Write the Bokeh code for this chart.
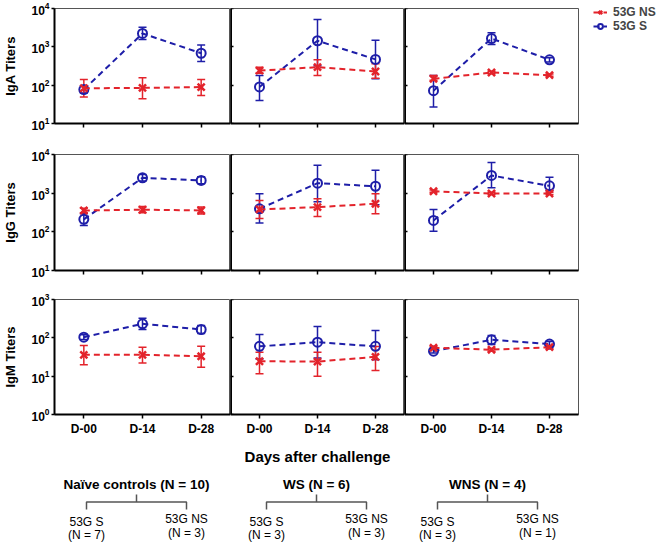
from bokeh.plotting import figure
from bokeh.models import (ColumnDataSource, FactorRange, Range1d, Whisker, TeeHead,
                          Legend, LegendItem, CustomJSTickFormatter)
from bokeh.layouts import column, row
from bokeh.embed import file_html
from bokeh.resources import INLINE
from bokeh.core.properties import value

# ---------------- data ----------------
DAYS = ["D-00", "D-14", "D-28"]
GROUPS = ["Naïve controls", "WS", "WNS"]
GROUP_N = [10, 6, 4]
S_N = [7, 3, 3]
NS_N = [3, 3, 1]
ISOTYPES = ["IgA", "IgG", "IgM"]
SERIES = ["53G NS", "53G S"]
Y_LIMITS = [(10, 10000), (10, 10000), (1, 1000)]

# one list per group (Naive, WS, WNS), values for D-00, D-14, D-28
IGA_S_MEAN = [[77, 2230, 680], [90, 1440, 470], [72, 1650, 460]]
IGA_S_LO = [[62, 1550, 414], [40, 320, 146], [27, 1150, 400]]
IGA_S_HI = [[95, 3250, 1120], [180, 5200, 1480], [180, 2320, 520]]
IGA_NS_MEAN = [[83, 85, 89], [240, 295, 227], [146, 214, 182]]
IGA_NS_LO = [[49, 44, 54], [205, 178, 152], [135, 200, 170]]
IGA_NS_HI = [[141, 155, 141], [293, 458, 360], [180, 230, 195]]

IGG_S_MEAN = [[210, 2500, 2130], [395, 1810, 1510], [197, 2870, 1550]]
IGG_S_LO = [[146, 2050, 1750], [168, 600, 500], [103, 1380, 1180]]
IGG_S_HI = [[294, 3050, 2650], [960, 5300, 3900], [380, 6200, 2580]]
IGG_NS_MEAN = [[357, 373, 357], [380, 435, 532], [1120, 980, 980]]
IGG_NS_LO = [[310, 310, 290], [220, 250, 294], [1050, 920, 920]]
IGG_NS_HI = [[410, 450, 440], [650, 720, 960], [1200, 1050, 1050]]

IGM_S_MEAN = [[104, 232, 165], [60, 77, 60], [45, 89, 69]]
IGM_S_LO = [[90, 166, 130], [28, 30, 27], [40, 67, 60]]
IGM_S_HI = [[120, 324, 210], [122, 197, 155], [50, 115, 80]]
IGM_NS_MEAN = [[36, 36, 33], [24.5, 24, 32], [55, 49, 57]]
IGM_NS_LO = [[20, 22, 17], [11.5, 10, 14], [50, 45, 52]]
IGM_NS_HI = [[63, 57, 60], [42, 42, 59], [60, 53, 62]]

S_DATA = [(IGA_S_MEAN, IGA_S_LO, IGA_S_HI), (IGG_S_MEAN, IGG_S_LO, IGG_S_HI),
          (IGM_S_MEAN, IGM_S_LO, IGM_S_HI)]
NS_DATA = [(IGA_NS_MEAN, IGA_NS_LO, IGA_NS_HI), (IGG_NS_MEAN, IGG_NS_LO, IGG_NS_HI),
           (IGM_NS_MEAN, IGM_NS_LO, IGM_NS_HI)]

# ---------------- style / layout ----------------
FONT = "Liberation Sans"
RED = "#E3232B"
BLUE = "#1E1EA8"
FRAME_W = [176, 174, 174]
FRAME_H = [115, 116, 115]
BORDER_TOP = [8, 8, 8]
BORDER_BOTTOM = [23, 21, 52]
BORDER_LEFT = [53, 0, 0]
BORDER_RIGHT = [0, 0, 5]
LEGEND_BORDER = 82
TOTAL_W = 659
ANN_H = 75
BRACKET_CX = [136, 316, 487]
BRACKET_HALF = 50


def style_axis(ax):
    ax.axis_line_color = "black"
    ax.axis_line_width = 2
    ax.major_tick_line_color = "black"
    ax.major_tick_line_width = 1.5
    ax.minor_tick_line_color = None
    ax.major_label_text_font = FONT
    ax.major_label_text_font_style = "bold"
    ax.major_label_text_font_size = "12px"
    ax.major_label_text_color = "black"
    ax.axis_label_text_font = FONT
    ax.axis_label_text_font_style = "bold"
    ax.axis_label_text_color = "black"


def add_series(p, mean, lo, hi, color, marker, size, lw):
    src = ColumnDataSource(dict(day=DAYS, mean=mean, lo=lo, hi=hi))
    ln = p.line("day", "mean", source=src, line_color=color, line_width=2, line_dash="6 4")
    w = Whisker(base="day", lower="lo", upper="hi", source=src, dimension="height",
                line_color=color, line_width=1.5,
                upper_head=TeeHead(size=8, line_color=color, line_width=1.5),
                lower_head=TeeHead(size=8, line_color=color, line_width=1.5))
    p.add_layout(w)
    sc = p.scatter("day", "mean", source=src, marker=marker, size=size,
                   line_color=color, fill_color=None, line_width=lw)
    return ln, sc


rows = []
for r in range(3):
    figs = []
    for c in range(3):
        lo_lim, hi_lim = Y_LIMITS[r]
        right = LEGEND_BORDER if (r == 0 and c == 2) else BORDER_RIGHT[c]
        p = figure(x_range=FactorRange(factors=DAYS), y_range=Range1d(lo_lim, hi_lim),
                   y_axis_type="log", frame_width=FRAME_W[c], frame_height=FRAME_H[r],
                   min_border_left=BORDER_LEFT[c], min_border_right=right,
                   min_border_top=BORDER_TOP[r], min_border_bottom=BORDER_BOTTOM[r],
                   output_backend="svg", toolbar_location=None)
        p.grid.visible = False
        p.outline_line_color = "#555555"
        p.outline_line_width = 1
        xa = p.xaxis[0]
        ya = p.yaxis[0]
        style_axis(xa)
        style_axis(ya)
        xa.major_tick_in = 0
        xa.major_tick_out = 4
        xa.major_label_standoff = 3
        if r < 2:
            xa.major_label_text_color = None
        if r == 2 and c == 1:
            xa.axis_label = "Days after challenge"
            xa.axis_label_text_font_size = "15px"
            xa.axis_label_standoff = 9
        if c == 0:
            ya.major_tick_in = 0
            ya.major_tick_out = 3
            ya.major_label_standoff = 1
            ya.axis_label = f"{ISOTYPES[r]} Titers"
            ya.axis_label_text_font_size = "13px"
            ya.axis_label_standoff = 10
        else:
            ya.formatter = CustomJSTickFormatter(code="return ''")
            ya.fixed_location = 0
            ya.axis_line_width = 3
            ya.major_tick_in = 3
            ya.major_tick_out = 0
            ya.major_label_standoff = 0

        sm, sl, sh = S_DATA[r]
        nm, nl, nh = NS_DATA[r]
        s_ln, s_sc = add_series(p, sm[c], sl[c], sh[c], BLUE, "circle", 9, 2)
        n_ln, n_sc = add_series(p, nm[c], nl[c], nh[c], RED, "x", 10, 2.5)

        if r == 0 and c == 2:
            leg = Legend(items=[LegendItem(label=SERIES[0], renderers=[n_ln, n_sc]),
                                LegendItem(label=SERIES[1], renderers=[s_ln, s_sc])],
                         location=(15, 90), orientation="vertical",
                         border_line_color=None, background_fill_alpha=0,
                         label_text_font=FONT, label_text_font_style="bold",
                         label_text_font_size="12px", glyph_width=14, glyph_height=12,
                         label_height=12, label_standoff=6, padding=0, spacing=0, margin=0)
            p.add_layout(leg, "right")
        figs.append(p)
    rows.append(row(*figs))

# ---------------- group annotation below ----------------
ann = figure(width=TOTAL_W, height=ANN_H, x_range=Range1d(0, TOTAL_W), y_range=Range1d(ANN_H, 0),
             output_backend="svg", toolbar_location=None, min_border=0)
ann.axis.visible = False
ann.grid.visible = False
ann.outline_line_color = None

xs, ys = [], []
for cx in BRACKET_CX:
    xs.append([cx, cx])
    ys.append([27, 34.5])
    xs.append([cx - BRACKET_HALF, cx - BRACKET_HALF, cx + BRACKET_HALF, cx + BRACKET_HALF])
    ys.append([42, 34.5, 34.5, 42])
ann.multi_line(xs, ys, line_color="#555555", line_width=1.5)

headers = [f"{g} (N = {n})" for g, n in zip(GROUPS, GROUP_N)]
ann.text(x=BRACKET_CX, y=[17] * 3, text=headers, text_align="center", text_baseline="middle",
         text_font=value(FONT), text_font_style="bold", text_font_size="13.5px", text_color="black")

left_x = [cx - BRACKET_HALF for cx in BRACKET_CX]
right_x = [cx + BRACKET_HALF for cx in BRACKET_CX]
ann.text(x=left_x, y=[54.5] * 3, text=["53G S"] * 3, text_align="center", text_baseline="middle",
         text_font=value(FONT), text_font_size="12px", text_color="black")
ann.text(x=left_x, y=[67.5] * 3, text=[f"(N = {n})" for n in S_N], text_align="center",
         text_baseline="middle", text_font=value(FONT), text_font_size="12px", text_color="black")
ann.text(x=right_x, y=[51.5] * 3, text=["53G NS"] * 3, text_align="center", text_baseline="middle",
         text_font=value(FONT), text_font_size="12px", text_color="black")
ann.text(x=right_x, y=[65.5] * 3, text=[f"(N = {n})" for n in NS_N], text_align="center",
         text_baseline="middle", text_font=value(FONT), text_font_size="12px", text_color="black")

layout = column(*rows, ann)
open("out.html", "w").write(file_html(layout, INLINE))
